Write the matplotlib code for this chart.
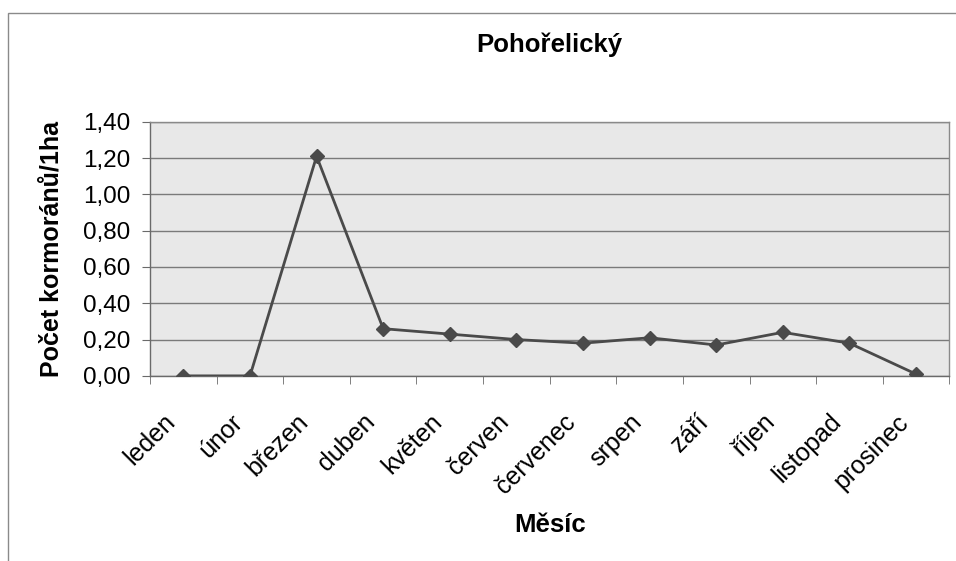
import matplotlib.pyplot as plt
from matplotlib.patches import Rectangle
from matplotlib.ticker import FuncFormatter, MultipleLocator
from matplotlib.transforms import ScaledTranslation, blended_transform_factory

plt.rcParams['font.family'] = ['Liberation Sans', 'DejaVu Sans']

mesice = ['leden', 'únor', 'březen', 'duben', 'květen', 'červen',
          'červenec', 'srpen', 'září', 'říjen', 'listopad', 'prosinec']
pocet = [0.00, 0.00, 1.21, 0.26, 0.23, 0.20, 0.18, 0.21, 0.17, 0.24, 0.18, 0.01]

fig = plt.figure(figsize=(9.56, 5.61), dpi=100)
ax = fig.add_axes([0.157, 0.330, 0.836, 0.453])

# ramecek kolem celeho grafu
fig.patches.append(Rectangle((8 / 956, -0.05), 1.2, 1 - 13 / 561 + 0.05,
                             transform=fig.transFigure, fill=False,
                             edgecolor='#8a8a8a', linewidth=1))

x = range(len(mesice))
ax.plot(x, pocet, color='#4a4a4a', linewidth=2, marker='D', markersize=7,
        markerfacecolor='#4a4a4a', markeredgecolor='#4a4a4a', zorder=3)

ax.set_facecolor('#e8e8e8')
ax.set_xlim(-0.5, len(mesice) - 0.5)
ax.set_ylim(0, 1.4)
ax.yaxis.set_major_locator(MultipleLocator(0.2))
ax.yaxis.set_major_formatter(FuncFormatter(lambda v, p: f'{v:.2f}'.replace('.', ',')))
ax.grid(axis='y', color='#7a7a7a', linewidth=1)
ax.set_axisbelow(True)

for s in ax.spines.values():
    s.set_color('#8a8a8a')
    s.set_linewidth(1)
ax.spines['bottom'].set_color('#6a6a6a')
ax.spines['left'].set_color('#6a6a6a')

ax.set_xticks(list(x))
ax.set_xticklabels([])
ax.set_xticks([i - 0.5 for i in range(len(mesice) + 1)], minor=True)
ax.tick_params(axis='x', which='major', length=0)
ax.tick_params(axis='x', which='minor', length=6, color='#6a6a6a')
ax.tick_params(axis='y', length=6, color='#6a6a6a', labelsize=17.5, pad=8)

# popisky mesicu: sikmo, konec trochu vlevo pod stredem kategorie
posun = ScaledTranslation(-20 / 100, -34 / 100, fig.dpi_scale_trans)
trans = blended_transform_factory(ax.transData, ax.transAxes) + posun
for i, m in enumerate(mesice):
    ax.text(i, 0, m, transform=trans, rotation=45, rotation_mode='anchor',
            ha='right', va='top', fontsize=18, clip_on=False)

ax.set_title('Pohořelický', fontsize=18.5, fontweight='bold', pad=50)
ax.set_ylabel('Počet kormoránů/1ha', fontsize=18, fontweight='bold', labelpad=14)
ax.text(0.5, -0.54, 'Měsíc', transform=ax.transAxes, ha='center', va='top',
        fontsize=18.5, fontweight='bold')

fig.savefig('out.png', dpi=100)
